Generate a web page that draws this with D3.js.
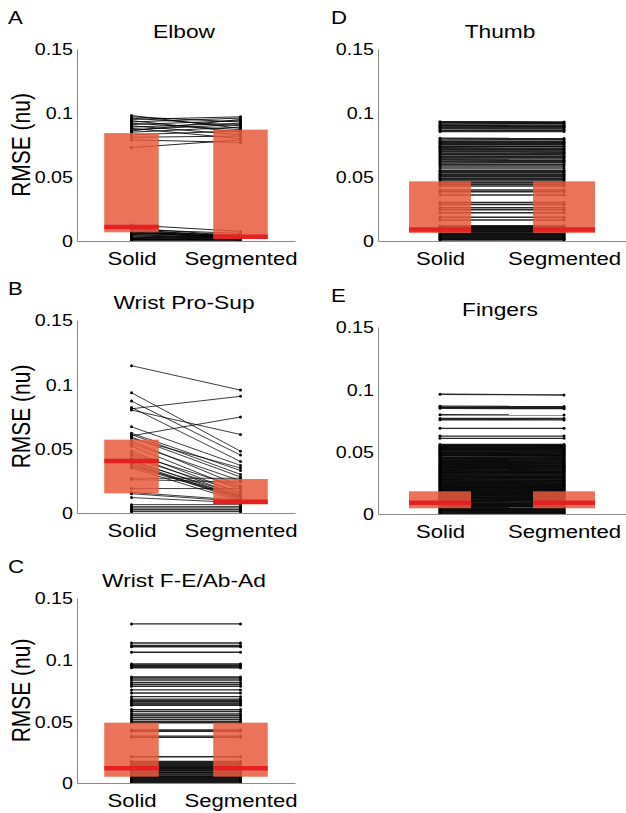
<!DOCTYPE html>
<html>
<head>
<meta charset="utf-8">
<script src="https://cdn.jsdelivr.net/npm/d3@7"></script>
<style>
  html, body { margin: 0; padding: 0; background: #fff; }
  svg { display: block; }
  text { font-family: "Liberation Sans", Arial, Helvetica, sans-serif; fill: #000; }
</style>
</head>
<body>
<svg id="chart" width="626" height="813"></svg>
<script>
// ---------------- data ----------------
const categories = ["Solid", "Segmented"];
const yTickValues = [0, 0.05, 0.1, 0.15];
const yTickLabels = ["0", "0.05", "0.1", "0.15"];
const panelLetters = ["A", "B", "C", "D", "E"];
const panelTitles = ["Elbow", "Wrist Pro-Sup", "Wrist F-E/Ab-Ad", "Thumb", "Fingers"];
const yLabel = "RMSE (nu)";

// paired RMSE values: [Solid, Segmented]
const elbow = [
  [0.098,0.088],[0.097,0.093],[0.096,0.090],[0.095,0.097],[0.094,0.085],[0.093,0.096],
  [0.092,0.087],[0.091,0.094],[0.090,0.083],[0.089,0.092],[0.088,0.080],[0.087,0.091],
  [0.086,0.095],[0.085,0.089],[0.083,0.086],[0.081,0.082],[0.079,0.077],[0.073,0.079],
  [0.0125,0.0075],[0.010,0.004],[0.009,0.003],[0.009,0.006],[0.008,0.002],[0.008,0.004],
  [0.007,0.003],[0.007,0.002],[0.006,0.005],[0.006,0.003],[0.005,0.002],[0.005,0.004],
  [0.004,0.002],[0.004,0.003],[0.003,0.001],[0.003,0.002],[0.002,0.001],[0.002,0.003],
  [0.001,0.001],[0.001,0.002],[0.0005,0.0005],[0.0012,0.0008]
];
const wristProSup = [
  [0.1145,0.0955],[0.0935,0.048],[0.087,0.045],[0.081,0.0907],[0.080,0.061],[0.082,0.040],
  [0.060,0.0746],[0.067,0.037],[0.062,0.033],[0.061,0.030],[0.059,0.028],[0.058,0.035],
  [0.056,0.021],[0.054,0.025],[0.052,0.018],[0.048,0.015],[0.046,0.020],[0.045,0.013],
  [0.043,0.016],[0.041,0.012],[0.040,0.014],[0.039,0.011],[0.038,0.010],[0.037,0.013],
  [0.036,0.012],[0.035,0.009],[0.027,0.027],[0.026,0.024],[0.019,0.019],[0.016,0.010],
  [0.015,0.009],[0.012,0.008],[0.0065,0.0065],[0.005,0.005],[0.004,0.004],[0.003,0.003],
  [0.0025,0.0025],[0.0015,0.0015],[0.001,0.001]
];
const wristFE = [
  [0.129,0.129],[0.1135,0.1135],[0.1115,0.1115],[0.1105,0.1105],[0.106,0.106],[0.0965,0.0965],
  [0.0955,0.0955],[0.0945,0.0945],[0.0935,0.0935],[0.086,0.086],[0.085,0.085],[0.0835,0.0835],
  [0.0815,0.0815],[0.080,0.080],[0.0785,0.0785],[0.0755,0.0755],[0.073,0.073],[0.070,0.070],
  [0.068,0.068],[0.067,0.067],[0.066,0.066],[0.065,0.065],[0.064,0.064],[0.063,0.063],
  [0.0595,0.0595],[0.058,0.058],[0.056,0.056],[0.0545,0.0545],[0.053,0.053],[0.0515,0.0515],
  [0.050,0.050],[0.0488,0.0488],[0.043,0.043],[0.042,0.042],[0.038,0.038],[0.037,0.037],
  [0.0213,0.0213],[0.0175,0.0175],[0.0166,0.0166],[0.0157,0.0157],[0.0149,0.0149],[0.0141,0.0141],
  [0.0132,0.0132],[0.0126,0.0126],[0.0117,0.0117],[0.0111,0.0111],[0.0102,0.0102],[0.0096,0.0096],
  [0.0087,0.0087],[0.0081,0.0081],[0.0072,0.0072],[0.0066,0.0066],[0.0057,0.0057],[0.0051,0.0051],
  [0.0042,0.0042],[0.0036,0.0036],[0.0027,0.0027],[0.0021,0.0021],[0.0012,0.0012],[0.0006,0.0006]
];
const thumb = [
  [0.0932,0.0930],[0.0925,0.0924],[0.0915,0.0916],[0.0905,0.0904],[0.0898,0.0897],[0.0888,0.0889],
  [0.0878,0.0877],[0.0866,0.0866],[0.0855,0.0856],[0.0802,0.0801],[0.0790,0.0791],[0.0778,0.0777],
  [0.0770,0.0770],[0.0760,0.0761],[0.0752,0.0751],[0.0741,0.0741],[0.0733,0.0734],[0.0722,0.0721],
  [0.0712,0.0712],[0.0703,0.0703],[0.0695,0.0694],[0.0683,0.0684],[0.0674,0.0673],[0.0662,0.0662],
  [0.0651,0.0652],[0.0640,0.0640],[0.0632,0.0631],[0.0621,0.0621],[0.0610,0.0611],[0.0598,0.0598],
  [0.0585,0.0585],[0.0570,0.0570],[0.0552,0.0552],[0.0543,0.0543],[0.0534,0.0534],[0.0522,0.0522],
  [0.0511,0.0511],[0.0502,0.0502],[0.0490,0.0490],[0.0480,0.0480],[0.0468,0.0468],[0.0455,0.0455],
  [0.0443,0.0443],[0.0430,0.0430],[0.0398,0.0398],[0.0385,0.0385],[0.0360,0.0360],[0.0300,0.0300],
  [0.0285,0.0285],[0.0260,0.0260],[0.0245,0.0245],[0.0220,0.0220],[0.0185,0.0185],[0.0165,0.0165],
  [0.0120,0.0120],[0.0112,0.0112],[0.0105,0.0105],[0.0098,0.0098],[0.0091,0.0091],[0.0084,0.0084],
  [0.0077,0.0077],[0.0070,0.0070],[0.0063,0.0063],[0.0056,0.0056],[0.0049,0.0049],[0.0042,0.0042],
  [0.0035,0.0035],[0.0028,0.0028],[0.0021,0.0021],[0.0014,0.0014],[0.0008,0.0008]
];
const fingers = [
  [0.0960,0.0955],[0.0865,0.0862],[0.0855,0.0852],[0.0848,0.0845],[0.0796,0.0795],[0.0767,0.0766],
  [0.0756,0.0755],[0.0687,0.0687],[0.0625,0.0625],[0.0607,0.0607],
  [0.0558,0.0558],[0.0552,0.0551],[0.0546,0.0547],[0.0541,0.0540],[0.0534,0.0535],[0.0529,0.0529],
  [0.0523,0.0524],[0.0518,0.0517],[0.0511,0.0511],[0.0505,0.0506],[0.0498,0.0499],[0.0494,0.0493],
  [0.0487,0.0488],[0.0482,0.0481],[0.0475,0.0476],[0.0470,0.0470],[0.0466,0.0465],[0.0458,0.0459],
  [0.0452,0.0452],[0.0447,0.0446],[0.0441,0.0442],[0.0434,0.0435],[0.0430,0.0429],[0.0423,0.0424],
  [0.0417,0.0417],[0.0411,0.0412],[0.0406,0.0405],[0.0399,0.0400],[0.0394,0.0394],[0.0389,0.0388],
  [0.0382,0.0383],[0.0377,0.0377],[0.0371,0.0370],[0.0366,0.0366],[0.0359,0.0360],[0.0354,0.0354],
  [0.0348,0.0349],[0.0343,0.0342],[0.0336,0.0337],[0.0331,0.0331],[0.0326,0.0325],[0.0319,0.0320],
  [0.0314,0.0314],[0.0307,0.0308],[0.0302,0.0302],[0.0297,0.0296],[0.0290,0.0291],[0.0285,0.0285],
  [0.0279,0.0280],[0.0274,0.0273],[0.0267,0.0268],[0.0262,0.0262],[0.0256,0.0257],[0.0251,0.0250],
  [0.0244,0.0245],[0.0239,0.0239],[0.0233,0.0234],[0.0228,0.0227],[0.0221,0.0222],[0.0216,0.0216],
  [0.0211,0.0210],[0.0204,0.0205],[0.0199,0.0199],[0.0193,0.0194],[0.0188,0.0187],[0.0181,0.0182],
  [0.0176,0.0176],[0.0170,0.0171],[0.0165,0.0164],[0.0158,0.0159],[0.0153,0.0153],[0.0147,0.0148],
  [0.0142,0.0141],[0.0135,0.0136],[0.0130,0.0130],[0.0124,0.0125],[0.0119,0.0118],[0.0112,0.0113],
  [0.0107,0.0107],[0.0101,0.0102],[0.0096,0.0095],[0.0089,0.0090],[0.0084,0.0084],[0.0078,0.0079],
  [0.0073,0.0072],[0.0066,0.0067],[0.0061,0.0061],[0.0055,0.0056],[0.0050,0.0049],[0.0043,0.0044],
  [0.0038,0.0038],[0.0032,0.0033],[0.0027,0.0026],[0.0020,0.0021],[0.0015,0.0015],[0.0009,0.0010],
  [0.0004,0.0004]
];

// box statistics [q1, median, q3] for Solid and Segmented
const elbowBox       = [[0.0068,0.0110,0.0843],[0.0016,0.0034,0.0870]];
const wristProSupBox = [[0.0153,0.0404,0.0570],[0.0067,0.0088,0.0264]];
const wristFEBox     = [[0.0051,0.0119,0.0489],[0.0051,0.0119,0.0489]];
const thumbBox       = [[0.0063,0.0090,0.0466],[0.0063,0.0090,0.0466]];
const fingersBox     = [[0.0046,0.0090,0.0182],[0.0046,0.0090,0.0182]];

// ---------------- drawing ----------------
const svg = d3.select("#chart");
const SX = 1.23; // horizontal text stretch as in the reference

const panels = [
  {data: elbow,       box: elbowBox,       left: 77,  right: 295, top: 49,  bottom: 241, ylab: true,  lw: 1.0},
  {data: wristProSup, box: wristProSupBox, left: 77,  right: 295, top: 320, bottom: 513, ylab: true,  lw: 0.9},
  {data: wristFE,     box: wristFEBox,     left: 77,  right: 295, top: 598, bottom: 783, ylab: true,  lw: 1.4},
  {data: thumb,       box: thumbBox,       left: 378, right: 626, top: 49,  bottom: 241, ylab: false, lw: 1.5},
  {data: fingers,     box: fingersBox,     left: 378, right: 626, top: 327, bottom: 514, ylab: false, lw: 1.4}
];

const boxFill = "rgb(230,90,60)";
const medColor = "rgb(228,32,34)";
const axisColor = "#8a8a8a";
const fontFam = "Liberation Sans, Arial, sans-serif";

panels.forEach((p, i) => {
  const x = d3.scaleLinear().domain([0.5, 2.5]).range([p.left, p.right]);
  const y = d3.scaleLinear().domain([0, 0.15]).range([p.bottom, p.top]);
  const g = svg.append("g");

  // paired lines
  const lines = g.append("g");
  lines.selectAll("line").data(p.data).join("line")
    .attr("x1", x(1)).attr("x2", x(2))
    .attr("y1", d => y(d[0])).attr("y2", d => y(d[1]))
    .attr("stroke", "#000").attr("stroke-width", p.lw).attr("stroke-opacity", 0.85);
  [0, 1].forEach(k => {
    lines.append("g").selectAll("circle").data(p.data).join("circle")
      .attr("cx", x(k + 1)).attr("cy", d => y(d[k])).attr("r", 1.5).attr("fill", "#000");
  });

  // boxes (IQR) and medians
  const bw = 0.25;
  p.box.forEach((b, k) => {
    const c = k + 1;
    g.append("rect")
      .attr("x", x(c - bw)).attr("width", x(c + bw) - x(c - bw))
      .attr("y", y(b[2])).attr("height", y(b[0]) - y(b[2]))
      .attr("fill", boxFill).attr("fill-opacity", 0.85);
    g.append("line")
      .attr("x1", x(c - bw)).attr("x2", x(c + bw))
      .attr("y1", y(b[1])).attr("y2", y(b[1]))
      .attr("stroke", medColor).attr("stroke-width", 4.5);
  });

  // axes
  const yAxis = g.append("g").attr("transform", `translate(${p.left},0)`)
    .call(d3.axisLeft(y).tickValues(yTickValues).tickFormat((d, j) => yTickLabels[j]).tickSize(0).tickSizeOuter(0));
  yAxis.select(".domain").attr("stroke", axisColor);
  yAxis.selectAll("text").attr("x", 0).attr("dy", "0.36em")
    .attr("transform", `translate(-4,0) scale(${SX},1)`)
    .style("font-size", "16px").style("font-family", fontFam).attr("fill", "#000");

  const xAxis = g.append("g").attr("transform", `translate(0,${p.bottom})`)
    .call(d3.axisBottom(x).tickValues([1, 2]).tickFormat(d => categories[d - 1]).tickSize(0).tickSizeOuter(0));
  xAxis.select(".domain").attr("stroke", axisColor);
  xAxis.selectAll("text").attr("y", 0).attr("dy", 0)
    .attr("transform", `translate(0,24) scale(${SX},1)`)
    .style("font-size", "18px").style("font-family", fontFam).attr("fill", "#000");

  // title
  g.append("text")
    .attr("transform", `translate(${(p.left + p.right) / 2 - 2},${p.top - 11}) scale(${SX},1)`)
    .attr("text-anchor", "middle").style("font-size", "18.5px")
    .text(panelTitles[i]);

  // panel letter
  g.append("text")
    .attr("transform", `translate(${i < 3 ? 8 : 331},${p.top - 25}) scale(${SX},1)`)
    .style("font-size", "18px")
    .text(panelLetters[i]);

  // y label
  if (p.ylab) {
    g.append("text")
      .attr("transform", `translate(${30},${(p.top + p.bottom) / 2}) scale(${SX},1) rotate(-90)`)
      .attr("text-anchor", "middle").style("font-size", "21px")
      .text(yLabel);
  }
});
</script>
</body>
</html>
